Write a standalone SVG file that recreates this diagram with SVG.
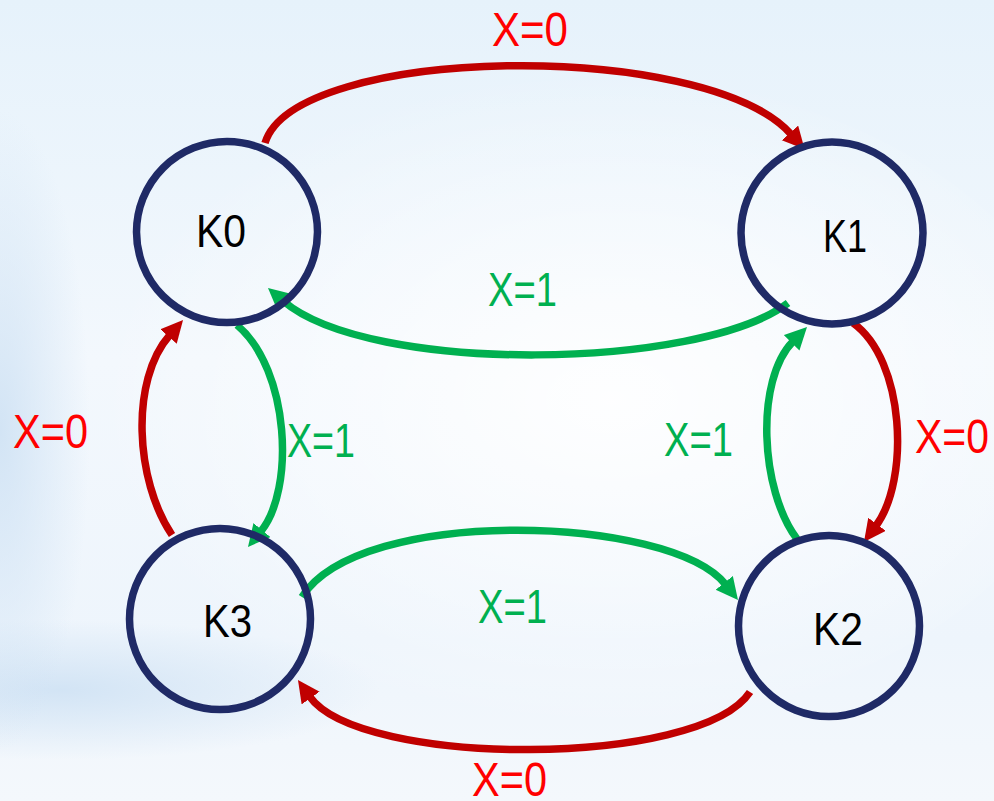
<svg xmlns="http://www.w3.org/2000/svg" width="994" height="801" viewBox="0 0 994 801">
  <defs>
    <linearGradient id="bg" x1="0" y1="0" x2="0" y2="1">
      <stop offset="0" stop-color="#e6f2fb"/>
      <stop offset="0.45" stop-color="#f3f8fd"/>
      <stop offset="0.8" stop-color="#eef5fc"/>
      <stop offset="1" stop-color="#f4f8fc"/>
    </linearGradient>
    <radialGradient id="glow" cx="0.55" cy="0.5" r="0.5">
      <stop offset="0" stop-color="#ffffff" stop-opacity="0.9"/>
      <stop offset="1" stop-color="#ffffff" stop-opacity="0"/>
    </radialGradient>
    <radialGradient id="band" cx="0.5" cy="0.5" r="0.5">
      <stop offset="0" stop-color="#cfe2f4" stop-opacity="0.9"/>
      <stop offset="1" stop-color="#cfe2f4" stop-opacity="0"/>
    </radialGradient>
    <marker id="ahRed" markerUnits="userSpaceOnUse" markerWidth="24" markerHeight="24" refX="2" refY="11" orient="auto">
      <path d="M0,0 L22,11 L0,22 z" fill="#c00000"/>
    </marker>
    <marker id="ahGreen" markerUnits="userSpaceOnUse" markerWidth="24" markerHeight="24" refX="2" refY="11" orient="auto">
      <path d="M0,0 L22,11 L0,22 z" fill="#00b050"/>
    </marker>
  </defs>
  <style>
    .node circle { fill: none; stroke: #1f2a66; stroke-width: 7.5; }
    .node text { font-family: "Liberation Sans", Arial, sans-serif; font-size: 47px; fill: #000000; }
    .red { fill: none; stroke: #c00000; stroke-width: 7.5; marker-end: url(#ahRed); }
    .green { fill: none; stroke: #00b050; stroke-width: 7.5; marker-end: url(#ahGreen); }
    .lbl { font-family: "Liberation Sans", Arial, sans-serif; font-size: 48px; }
    .lr { fill: #ff0000; }
    .lg { fill: #00b050; }
  </style>

  <rect x="0" y="0" width="994" height="801" fill="url(#bg)"/>
  <ellipse cx="560" cy="400" rx="520" ry="330" fill="url(#glow)"/>
  <ellipse cx="60" cy="690" rx="320" ry="70" fill="url(#band)"/>
  <ellipse cx="0" cy="430" rx="90" ry="320" fill="url(#band)"/>

  <g id="connectors">
    <path id="e-k0-k1" class="red" d="M265,143 C295,45 705,38 791.3,134.4"/>
    <path id="e-k1-k0" class="green" d="M788,303 C700,370 370,375 283.2,301"/>
    <path id="e-k0-k3" class="green" d="M237,325 C290,370 295,490 260.7,531.6"/>
    <path id="e-k3-k0" class="red" d="M172,535 C135,480 130,380 169.8,335"/>
    <path id="e-k1-k2" class="red" d="M853,323 C905,360 910,480 875.9,525.9"/>
    <path id="e-k2-k1" class="green" d="M797,539 C760,490 755,380 793,341.3"/>
    <path id="e-k3-k2" class="green" d="M302,597 C360,505 670,515 725.5,584.4"/>
    <path id="e-k2-k3" class="red" d="M750,692 C700,768 360,768 309.5,696.4"/>
  </g>

  <g id="labels">
    <text class="lbl lr" x="492" y="46" textLength="76" lengthAdjust="spacingAndGlyphs">X=0</text>
    <text class="lbl lg" x="488" y="306" textLength="69" lengthAdjust="spacingAndGlyphs">X=1</text>
    <text class="lbl lr" x="13" y="448" textLength="75" lengthAdjust="spacingAndGlyphs">X=0</text>
    <text class="lbl lg" x="287" y="457" textLength="68" lengthAdjust="spacingAndGlyphs">X=1</text>
    <text class="lbl lg" x="664" y="456" textLength="69" lengthAdjust="spacingAndGlyphs">X=1</text>
    <text class="lbl lr" x="915" y="453" textLength="74" lengthAdjust="spacingAndGlyphs">X=0</text>
    <text class="lbl lg" x="478" y="623" textLength="69" lengthAdjust="spacingAndGlyphs">X=1</text>
    <text class="lbl lr" x="472" y="796" textLength="75" lengthAdjust="spacingAndGlyphs">X=0</text>
  </g>

  <g id="K0" class="node">
    <circle cx="227" cy="232" r="90.5"/>
    <text x="196" y="247" textLength="50" lengthAdjust="spacingAndGlyphs">K0</text>
  </g>
  <g id="K1" class="node">
    <circle cx="832" cy="233" r="91"/>
    <text x="823" y="252" textLength="44" lengthAdjust="spacingAndGlyphs">K1</text>
  </g>
  <g id="K2" class="node">
    <circle cx="829" cy="626" r="90.5"/>
    <text x="813" y="645" textLength="50" lengthAdjust="spacingAndGlyphs">K2</text>
  </g>
  <g id="K3" class="node">
    <circle cx="220" cy="619" r="90.5"/>
    <text x="203" y="637" textLength="49" lengthAdjust="spacingAndGlyphs">K3</text>
  </g>
</svg>
